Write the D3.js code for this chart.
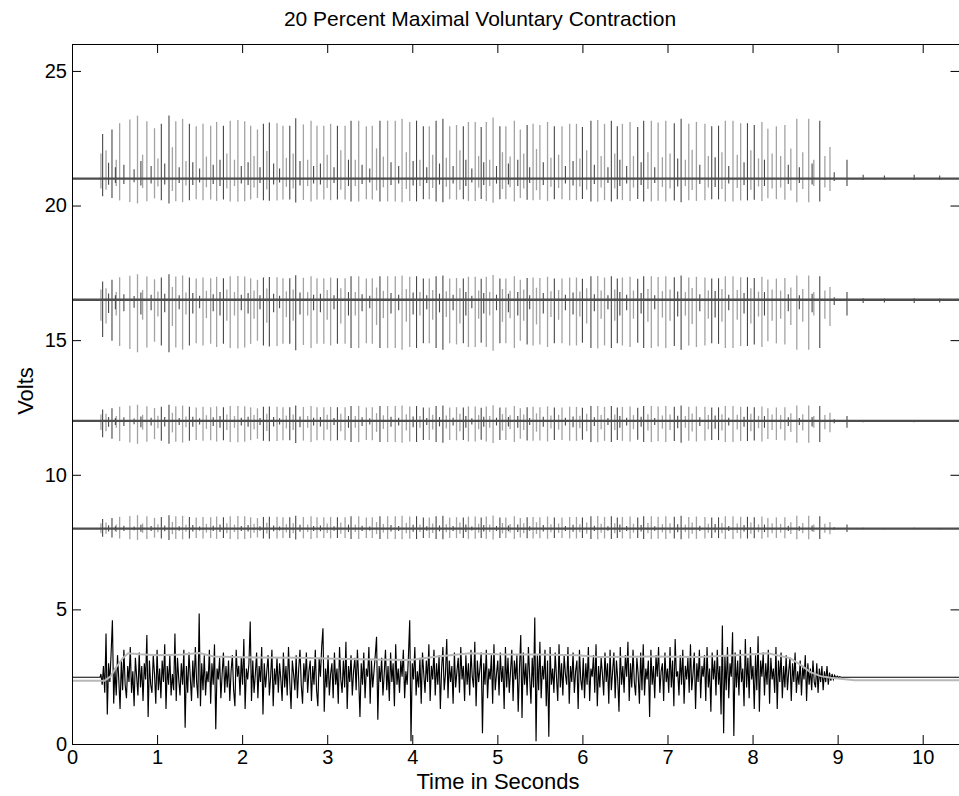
<!DOCTYPE html>
<html>
<head>
<meta charset="utf-8">
<script src="https://cdn.jsdelivr.net/npm/d3@7"></script>
<style>
body { margin: 0; background: #fff; }
svg { display: block; }
text { font-family: "Liberation Sans", Arial, sans-serif; }
</style>
</head>
<body>
<div id="chart-area"></div>
<script>
// Ticks
var xTicks = [0, 1, 2, 3, 4, 5, 6, 7, 8, 9, 10];
var yTicks = [0, 5, 10, 15, 20, 25];

// Spike-train channels (offset on the plot)
var traceBase = [21, 16.5, 12, 8];
var traceUp = [2.34, 0.95, 0.6, 0.5];
var traceDown = [0.92, 1.95, 0.85, 0.42];

// Large spikes, light unit (time s, relative size)
var lightT = [0.34, 0.56, 0.68, 0.77, 0.88, 0.97, 1.22, 1.30, 1.46, 1.54, 1.63, 1.70, 1.86, 1.95, 2.03, 2.10, 2.18, 2.41, 2.48, 2.72, 2.81, 2.88, 2.96, 3.04, 3.21,
  3.37, 3.46, 3.53, 3.71, 3.80, 3.88, 3.97, 4.20, 4.44, 4.52, 4.66, 4.74, 4.87, 4.95, 5.10, 5.20, 5.27, 5.42, 5.50, 5.59, 5.76, 5.85, 5.93, 6.18, 6.26,
  6.47, 6.56, 6.81, 6.89, 6.98, 7.25, 7.34, 7.44, 7.68, 7.77, 7.86, 8.11, 8.18, 8.28, 8.38, 8.52, 8.66, 8.91];
var lightA = [0.40, 0.88, 0.94, 1.00, 0.91, 0.80, 0.91, 0.95, 0.83, 0.87, 0.84, 0.90, 0.92, 0.93, 0.91, 0.84, 0.78, 0.88, 0.84, 0.86, 0.92, 0.84, 0.84, 0.87, 0.84,
  0.92, 0.83, 0.84, 0.92, 0.92, 0.95, 0.90, 0.83, 0.83, 0.85, 0.90, 0.90, 0.90, 0.97, 0.83, 0.92, 0.78, 0.87, 0.85, 0.90, 0.83, 0.87, 0.87, 0.93, 0.87,
  0.87, 0.90, 0.92, 0.89, 0.92, 0.87, 0.90, 0.87, 0.92, 0.92, 0.88, 0.90, 0.79, 0.83, 0.85, 0.95, 0.95, 0.50];

// Large spikes, dark unit
var darkT = [0.36, 0.47, 1.05, 1.14, 1.38, 1.78, 2.25, 2.32, 2.56, 2.63, 3.12, 3.28, 3.62, 4.05, 4.13, 4.28, 4.36, 4.60, 4.81, 5.03, 5.35, 5.67,
  6.00, 6.10, 6.34, 6.41, 6.65, 6.72, 7.08, 7.16, 7.52, 7.60, 7.94, 8.02, 8.79, 9.11];
var darkA = [0.71, 0.78, 0.87, 1.00, 0.87, 0.84, 0.87, 0.89, 0.84, 0.96, 0.84, 0.92, 0.92, 0.92, 0.83, 0.92, 0.95, 0.83, 0.82, 0.83, 0.85, 0.83,
  0.82, 0.92, 0.92, 0.83, 0.82, 0.92, 0.88, 0.95, 0.83, 0.84, 0.88, 0.85, 0.92, 0.30];

// Smaller spikes
var minorLightT = [0.40, 0.52, 0.83, 1.01, 1.18, 1.34, 1.58, 1.82, 1.91, 2.14, 2.29, 2.52, 2.60, 2.77, 3.00, 3.16, 3.33, 3.58, 3.66, 3.93, 4.09, 4.24, 4.40, 4.56,
  4.78, 4.91, 5.06, 5.15, 5.31, 5.46, 5.63, 5.72, 5.97, 6.05, 6.22, 6.38, 6.60, 6.77, 6.94, 7.03, 7.21, 7.29, 7.48, 7.64, 7.82, 7.98, 8.07, 8.23, 8.33, 8.45, 8.59, 8.72, 8.85];
var minorLightA = [0.45, 0.30, 0.38, 0.32, 0.50, 0.28, 0.35, 0.40, 0.30, 0.36, 0.44, 0.33, 0.40, 0.30, 0.38, 0.45, 0.30, 0.48, 0.35, 0.42, 0.30, 0.38, 0.33, 0.45,
  0.36, 0.30, 0.42, 0.35, 0.40, 0.47, 0.33, 0.38, 0.32, 0.45, 0.36, 0.40, 0.36, 0.42, 0.34, 0.40, 0.30, 0.46, 0.36, 0.42, 0.38, 0.45, 0.32, 0.40, 0.36, 0.48, 0.42, 0.30, 0.36];
var minorDarkT = [0.43, 0.51, 0.61, 0.73, 0.81, 0.93, 1.09, 1.26, 1.42, 1.50, 1.66, 1.74, 1.99, 2.07, 2.21, 2.37, 2.44, 2.68, 2.84, 2.92, 3.08, 3.25, 3.41, 3.50,
  3.75, 3.84, 4.01, 4.17, 4.32, 4.48, 4.63, 4.70, 4.84, 4.99, 5.13, 5.24, 5.38, 5.54, 5.80, 5.89, 6.14, 6.30, 6.44, 6.52, 6.69, 6.85, 7.12, 7.38, 7.56, 7.72,
  7.90, 8.14, 8.42, 8.55, 8.70, 8.96, 9.30, 9.55, 9.90, 10.20];
var minorDarkA = [0.25, 0.18, 0.22, 0.15, 0.28, 0.20, 0.24, 0.18, 0.26, 0.16, 0.22, 0.30, 0.20, 0.26, 0.18, 0.24, 0.16, 0.28, 0.20, 0.24, 0.18, 0.30, 0.22, 0.16,
  0.26, 0.20, 0.28, 0.18, 0.24, 0.20, 0.30, 0.16, 0.26, 0.20, 0.24, 0.30, 0.18, 0.26, 0.20, 0.28, 0.22, 0.18, 0.30, 0.20, 0.26, 0.18, 0.32, 0.22, 0.34, 0.20,
  0.26, 0.30, 0.22, 0.18, 0.24, 0.10, 0.06, 0.05, 0.06, 0.05];

// Surface EMG (volts), sampled every 0.015 s from 0.34 s
var emgStart = 0.34, emgStep = 0.015, emgRest = 2.48;
var emg = [
  2.6,2.2,2.9,1.9,4.1,1.1,3.0,2.3,3.4,4.6,1.5,2.8,1.8,3.3,2.4,1.3,3.1,2.0,3.5,2.2,
  1.7,2.9,2.3,3.6,1.9,2.7,1.4,3.2,2.5,1.8,3.4,2.1,2.9,1.6,3.0,2.4,4.05,1.0,3.1,2.2,
  1.9,3.3,2.6,1.5,3.5,2.0,2.8,1.7,3.1,2.3,3.7,1.3,2.9,2.2,3.3,1.8,2.6,2.0,4.1,1.6,
  3.2,2.4,1.8,3.0,2.2,3.5,0.6,2.9,1.9,3.4,2.5,1.6,3.1,2.1,3.6,2.3,1.7,4.85,1.4,3.0,
  2.0,3.3,1.8,2.7,2.3,3.5,1.5,3.0,2.2,3.7,0.55,2.8,2.4,3.2,1.7,2.6,3.4,1.9,2.9,2.1,
  3.1,1.6,2.7,3.3,2.0,1.4,3.5,2.5,2.9,1.8,3.2,2.2,3.9,1.3,2.8,2.4,3.0,4.55,1.6,3.1,
  1.9,2.6,3.4,1.7,2.9,2.3,3.6,1.1,3.0,2.1,2.7,3.3,1.8,2.5,3.5,1.4,2.8,2.2,3.2,1.9,
  3.0,2.4,1.6,3.4,2.1,2.9,1.8,3.6,2.3,1.3,3.1,2.6,2.0,3.3,1.7,2.8,3.5,2.2,1.5,3.0,
  2.3,3.4,1.9,2.7,3.1,1.6,2.9,2.2,3.5,2.0,1.4,3.2,2.5,3.6,4.3,1.2,2.8,2.1,3.3,1.8,
  2.6,3.0,1.7,3.4,2.2,2.8,1.5,3.6,2.4,1.9,3.1,2.1,3.8,1.3,2.9,2.3,3.3,1.8,2.7,3.2,
  2.0,3.5,2.4,1.0,3.0,2.2,3.4,1.7,2.8,2.5,3.6,1.5,3.1,2.1,2.7,3.3,3.98,0.9,2.9,2.3,
  3.2,1.8,2.6,3.5,2.0,2.9,1.6,3.4,2.3,3.0,1.4,3.7,2.2,2.8,1.9,3.1,2.5,3.5,1.7,2.7,
  2.2,3.3,4.6,0.1,3.0,2.4,3.6,1.8,2.7,2.1,3.2,1.5,3.4,2.6,1.9,3.1,2.3,3.7,1.6,2.9,
  2.4,3.5,1.8,3.0,2.2,3.3,1.3,2.8,3.6,2.0,2.6,3.9,1.7,3.1,2.3,2.9,1.5,3.4,2.1,2.7,
  3.2,1.9,3.6,2.4,2.9,1.6,3.3,2.2,3.0,1.8,3.5,2.5,2.1,3.8,1.4,3.1,2.3,2.8,3.4,0.4,
  3.0,2.2,3.5,1.7,2.8,2.4,3.3,1.5,3.7,2.0,2.6,3.1,1.8,3.4,2.3,2.9,1.3,3.6,2.1,3.2,
  1.9,2.7,3.5,1.6,3.1,2.4,3.3,1.2,2.8,4.05,0.97,3.4,2.2,3.0,1.8,3.6,2.5,1.5,3.2,2.1,
  4.7,0.1,3.3,2.0,3.8,1.7,2.9,2.4,3.5,1.4,3.1,0.27,3.6,2.2,2.8,1.9,3.4,2.5,1.6,3.7,
  2.1,3.0,1.8,3.3,2.6,2.2,3.6,1.5,2.9,2.3,3.4,1.9,2.7,3.1,1.3,3.5,2.4,2.0,3.2,1.7,
  3.0,2.2,3.6,1.6,2.8,2.5,3.3,1.9,3.7,1.4,2.9,2.1,3.2,2.6,1.8,3.4,2.3,3.0,1.5,3.5,
  2.0,2.7,3.4,1.7,3.1,2.4,1.2,3.6,2.2,2.9,1.9,3.3,2.5,3.8,1.6,3.0,2.1,3.5,2.3,1.8,
  3.2,2.6,1.5,3.4,2.0,3.7,1.8,2.8,2.4,3.1,1.0,3.5,2.2,2.9,1.7,3.3,2.5,3.6,1.9,2.7,
  3.0,1.6,3.4,2.3,2.8,1.9,3.6,2.1,3.1,1.4,3.9,2.5,2.7,1.8,3.3,2.2,3.5,1.5,2.9,2.4,
  3.2,1.9,3.7,2.0,2.6,3.4,1.3,3.0,2.3,3.5,1.7,2.9,2.5,3.3,1.6,3.6,2.1,2.8,1.2,3.4,
  2.4,3.1,1.8,3.5,2.2,2.9,1.1,4.4,0.4,3.3,2.0,3.6,1.7,3.0,2.5,4.15,0.3,3.4,2.1,3.1,
  1.8,3.5,2.3,2.8,1.4,3.9,2.1,3.2,1.7,3.6,2.4,2.9,1.3,3.3,2.0,4.0,1.2,3.1,2.5,3.4,
  1.8,3.0,2.2,3.5,1.5,3.2,2.4,2.8,1.9,3.6,1.3,3.1,2.3,3.4,1.7,2.9,2.1,3.3,2.0,2.7,
  3.2,1.6,3.0,2.3,3.4,1.9,2.7,2.2,3.1,1.8,2.9,2.4,3.3,1.6,3.0,2.2,2.8,2.0,3.1,2.3,
  2.1,3.0,1.9,2.8,2.3,2.9,2.0,2.7,2.3,2.9,2.2,2.65,2.35,2.6,2.4,2.55,2.45,2.52,2.47,2.5
];

// Smoothed EMG envelope
var envT = [0, 0.38, 0.45, 0.52, 0.60, 0.66, 0.80, 1.00, 1.30, 1.50, 1.66, 2.00, 2.68, 3.00, 3.39, 3.97, 4.30, 4.68, 5.00, 5.50, 5.94, 6.20, 6.80, 7.38, 7.80, 8.18, 8.44, 8.56, 8.68, 8.80, 8.92, 9.03, 9.20, 10.43];
var envV = [2.35, 2.35, 2.50, 2.85, 3.20, 3.37, 3.33, 3.30, 3.32, 3.38, 3.25, 3.22, 3.20, 3.18, 3.15, 3.12, 3.25, 3.37, 3.33, 3.32, 3.30, 3.23, 3.25, 3.23, 3.30, 3.37, 3.19, 2.95, 2.67, 2.52, 2.46, 2.42, 2.37, 2.37];

var margin = {top: 44, left: 72};
var width = 887.5, height = 700;

var svg = d3.select("#chart-area")
    .append("svg")
    .attr("width", 959)
    .attr("height", 796);

var g = svg.append("g")
    .attr("transform", "translate(" + margin.left + "," + margin.top + ")");

var x = d3.scaleLinear().domain([0, width / 85.07]).range([0, width]);
var y = d3.scaleLinear().domain([0, 26]).range([height, 0]);

var plot = g.append("g");

// spike trains
function drawSpikes(times, amps, color, sw) {
    traceBase.forEach(function(b, k) {
        plot.append("g").selectAll("line")
            .data(times)
            .enter().append("line")
            .attr("x1", function(d) { return x(d); })
            .attr("x2", function(d) { return x(d); })
            .attr("y1", function(d, i) { return y(b + amps[i] * traceUp[k]); })
            .attr("y2", function(d, i) { return y(b - amps[i] * traceDown[k]); })
            .attr("stroke", color)
            .attr("stroke-width", sw);
    });
}
drawSpikes(lightT, lightA, "#a3a3a3", 1.3);
drawSpikes(minorLightT, minorLightA, "#a3a3a3", 1.3);
drawSpikes(darkT, darkA, "#474747", 1.1);
drawSpikes(minorDarkT, minorDarkA, "#474747", 1.1);

// baselines
plot.selectAll(".base")
    .data(traceBase)
    .enter().append("line")
    .attr("class", "base")
    .attr("x1", 0)
    .attr("x2", width)
    .attr("y1", function(d) { return y(d); })
    .attr("y2", function(d) { return y(d); })
    .attr("stroke", "#4d4d4d")
    .attr("stroke-width", 2.4);

// EMG
var emgPts = [[0, emgRest], [emgStart - 0.01, emgRest]];
emg.forEach(function(v, i) { emgPts.push([emgStart + i * emgStep, v]); });
emgPts.push([emgStart + emg.length * emgStep, emgRest]);
emgPts.push([x.domain()[1], emgRest]);

var line = d3.line()
    .x(function(d) { return x(d[0]); })
    .y(function(d) { return y(d[1]); });

plot.append("path")
    .datum(emgPts)
    .attr("d", line)
    .attr("fill", "none")
    .attr("stroke", "#000")
    .attr("stroke-width", 1.15);

plot.append("path")
    .datum(envT.map(function(t, i) { return [t, envV[i]]; }))
    .attr("d", line)
    .attr("fill", "none")
    .attr("stroke", "#b8b8b8")
    .attr("stroke-width", 2);

// AXES
function styleAxis(sel) {
    sel.attr("font-family", null).attr("font-size", null);
    sel.selectAll("text").attr("font-size", "20px").attr("fill", "#000");
    sel.selectAll("line, path").attr("stroke", "#000");
}

g.append("g")
    .attr("transform", "translate(0," + height + ")")
    .call(d3.axisBottom(x).tickValues(xTicks).tickSizeInner(-9).tickSizeOuter(0).tickPadding(6))
    .call(styleAxis);

g.append("g")
    .call(d3.axisTop(x).tickValues(xTicks).tickSizeInner(-9).tickSizeOuter(0).tickFormat(""))
    .call(styleAxis);

g.append("g")
    .call(d3.axisLeft(y).tickValues(yTicks).tickSizeInner(-9).tickSizeOuter(0).tickPadding(5))
    .call(styleAxis);

g.append("g")
    .attr("transform", "translate(" + width + ",0)")
    .call(d3.axisRight(y).tickValues(yTicks).tickSizeInner(-9).tickSizeOuter(0).tickFormat(""))
    .call(styleAxis);

// Labels
svg.append("text")
    .attr("x", 480)
    .attr("y", 26)
    .attr("text-anchor", "middle")
    .attr("font-size", "21px")
    .text("20 Percent Maximal Voluntary Contraction");

svg.append("text")
    .attr("x", 498)
    .attr("y", 789)
    .attr("text-anchor", "middle")
    .attr("font-size", "22px")
    .text("Time in Seconds");

svg.append("text")
    .attr("transform", "translate(33," + 391 + ") rotate(-90)")
    .attr("text-anchor", "middle")
    .attr("font-size", "22px")
    .text("Volts");
</script>
</body>
</html>
